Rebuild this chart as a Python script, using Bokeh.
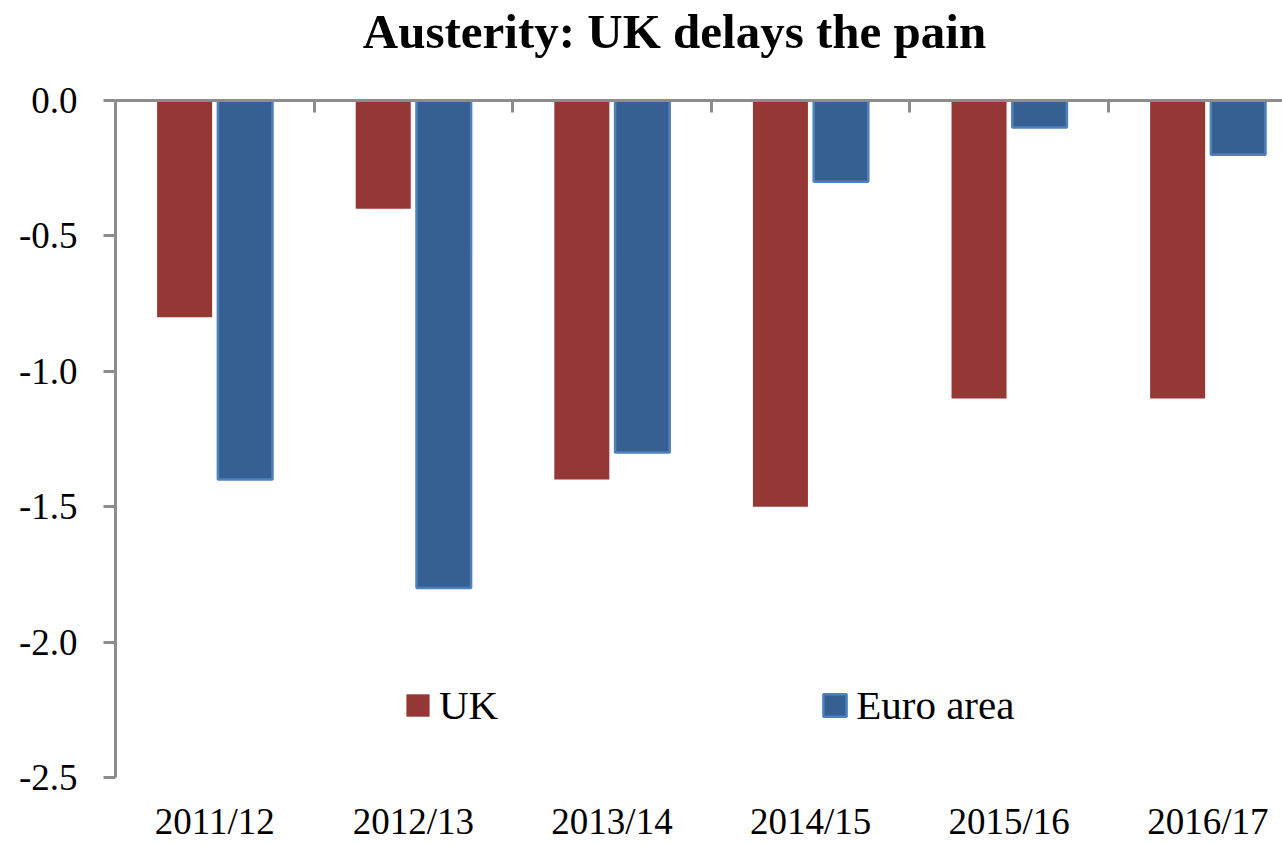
from bokeh.plotting import figure
from bokeh.models import (Range1d, LinearAxis, FixedTicker, Legend, LegendItem,
                          ColumnDataSource, PrintfTickFormatter)
from bokeh.transform import dodge
from bokeh.embed import file_html
from bokeh.resources import INLINE

# ---- data ----
categories = ["2011/12", "2012/13", "2013/14", "2014/15", "2015/16", "2016/17"]
uk_values = [-0.8, -0.4, -1.4, -1.5, -1.1, -1.1]
euro_values = [-1.4, -1.8, -1.3, -0.3, -0.1, -0.2]
y_ticks = [0.0, -0.5, -1.0, -1.5, -2.0, -2.5]
title_text = "Austerity: UK delays the pain"
series_names = ["UK", "Euro area"]

xc = list(range(len(categories)))
source = ColumnDataSource(dict(x=xc, uk=uk_values, euro=euro_values,
                               zero=[0.0] * len(categories)))

GRAY = "#8c8c8c"
FONT = "Liberation Serif"

p = figure(width=1282, height=845, output_backend="svg", toolbar_location=None,
           title=None, x_range=Range1d(-0.5, 5.376), y_range=Range1d(-2.5, 0),
           min_border_left=115, min_border_right=0, min_border_top=99,
           min_border_bottom=68, background_fill_color="white",
           border_fill_color="white")
p.outline_line_color = None
p.grid.visible = False

r1 = p.vbar(x=dodge("x", -0.152, range=p.x_range), top="zero", bottom="uk",
            width=0.277, fill_color="#953735", line_color=None, source=source)
r2 = p.vbar(x=dodge("x", 0.153, range=p.x_range), top="zero", bottom="euro",
            width=0.275, fill_color="#376092", line_color="#4F81BD",
            line_width=2.5, source=source)

# y axis
ya = p.yaxis[0]
ya.ticker = FixedTicker(ticks=y_ticks)
ya.formatter = PrintfTickFormatter(format="%.1f")
ya.axis_line_color = GRAY
ya.axis_line_width = 3
ya.major_tick_line_color = GRAY
ya.major_tick_line_width = 3
ya.major_tick_out = 12
ya.major_tick_in = 0
ya.minor_tick_line_color = None
ya.major_label_text_font = FONT
ya.major_label_text_font_size = "37px"
ya.major_label_text_color = "black"
ya.major_label_standoff = 26

# bottom axis: category labels only
xa = p.xaxis[0]
xa.ticker = FixedTicker(ticks=xc)
xa.major_label_overrides = {i: c for i, c in zip(xc, categories)}
xa.axis_line_color = None
xa.major_tick_line_color = None
xa.minor_tick_line_color = None
xa.major_label_text_font = FONT
xa.major_label_text_font_size = "37px"
xa.major_label_text_color = "black"
xa.major_label_standoff = 17

# zero line with category separators; its axis label carries the chart title
# (trailing no-break spaces shift the centred title slightly left, as in the original)
top_axis = LinearAxis(ticker=FixedTicker(ticks=[], minor_ticks=[i - 0.5 for i in xc]),
                      major_label_standoff=0,
                      axis_line_color=GRAY, axis_line_width=3,
                      major_tick_line_color=None,
                      major_tick_in=0, major_tick_out=0,
                      minor_tick_line_color=GRAY, minor_tick_line_width=3,
                      minor_tick_in=12, minor_tick_out=0,
                      axis_label=title_text + "\u00a0" * 4, axis_label_standoff=42,
                      axis_label_text_font=FONT, axis_label_text_font_style="bold",
                      axis_label_text_font_size="49px", axis_label_text_color="black")
p.add_layout(top_axis, "above")

legend = Legend(items=[LegendItem(label=series_names[0], renderers=[r1]),
                       LegendItem(label=series_names[1], renderers=[r2])],
                orientation="horizontal", location=(288, 48),
                background_fill_alpha=0, border_line_color=None,
                padding=0, margin=0, spacing=322, glyph_width=29,
                glyph_height=28, label_standoff=7,
                label_text_font=FONT, label_text_font_size="41px",
                label_text_color="black")
p.add_layout(legend)

open("out.html", "w").write(file_html(p, INLINE))
